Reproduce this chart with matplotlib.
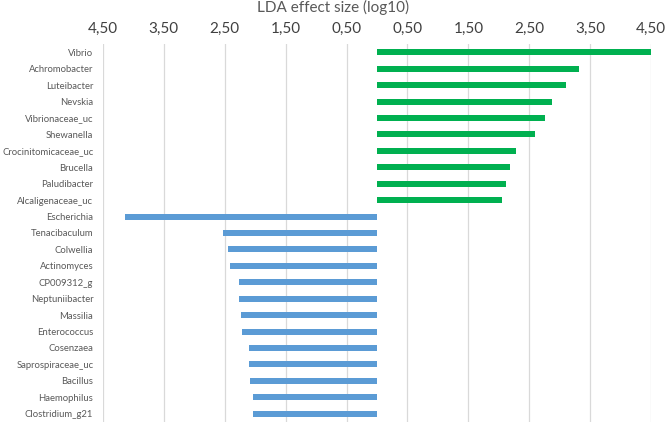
import numpy as np
import matplotlib
matplotlib.use("Agg")
import matplotlib.pyplot as plt

plt.rcParams['font.family'] = ['Lato', 'DejaVu Sans']

taxa = ["Vibrio", "Achromobacter", "Luteibacter", "Nevskia", "Vibrionaceae_uc",
        "Shewanella", "Crocinitomicaceae_uc", "Brucella", "Paludibacter",
        "Alcaligenaceae_uc", "Escherichia", "Tenacibaculum", "Colwellia",
        "Actinomyces", "CP009312_g", "Neptuniibacter", "Massilia", "Enterococcus",
        "Cosenzaea", "Saprospiraceae_uc", "Bacillus", "Haemophilus", "Clostridium_g21"]
lda = [4.52, 3.32, 3.10, 2.87, 2.76, 2.60, 2.29, 2.19, 2.12, 2.05,
       -4.14, -2.53, -2.44, -2.42, -2.26, -2.26, -2.23, -2.21,
       -2.10, -2.10, -2.09, -2.04, -2.04]
ticks = [-4.5, -3.5, -2.5, -1.5, -0.5, 0.5, 1.5, 2.5, 3.5, 4.5]

colors = ["#00B050" if v > 0 else "#5B9BD5" for v in lda]
y = np.arange(len(taxa))

fig = plt.figure(figsize=(6.66, 4.24), dpi=100)
ax = fig.add_axes([0.1547, 0.005, 0.8228, 0.891])
ax.barh(y, lda, height=0.37, color=colors, zorder=3)

ax.set_xlim(-4.5, 4.5)
ax.set_ylim(len(taxa) - 0.5, -0.5)
ax.set_xticks(ticks)
ax.set_xticklabels([f"{abs(t):.2f}".replace(".", ",") for t in ticks])
ax.xaxis.tick_top()
ax.tick_params(axis="x", length=0, labelsize=11, labelcolor="#404040", pad=6)
ax.grid(axis="x", color="#D9D9D9", linewidth=0.9, zorder=0)

ax.set_yticks(y)
ax.set_yticklabels(taxa)
ax.tick_params(axis="y", length=0, labelsize=6.8, labelcolor="#595959", pad=7)

for s in ax.spines.values():
    s.set_visible(False)

fig.text(0.5, 0.983, "LDA effect size (log10)", ha="center", va="center",
         fontsize=11, color="#595959")

fig.savefig("out.png", dpi=100)
